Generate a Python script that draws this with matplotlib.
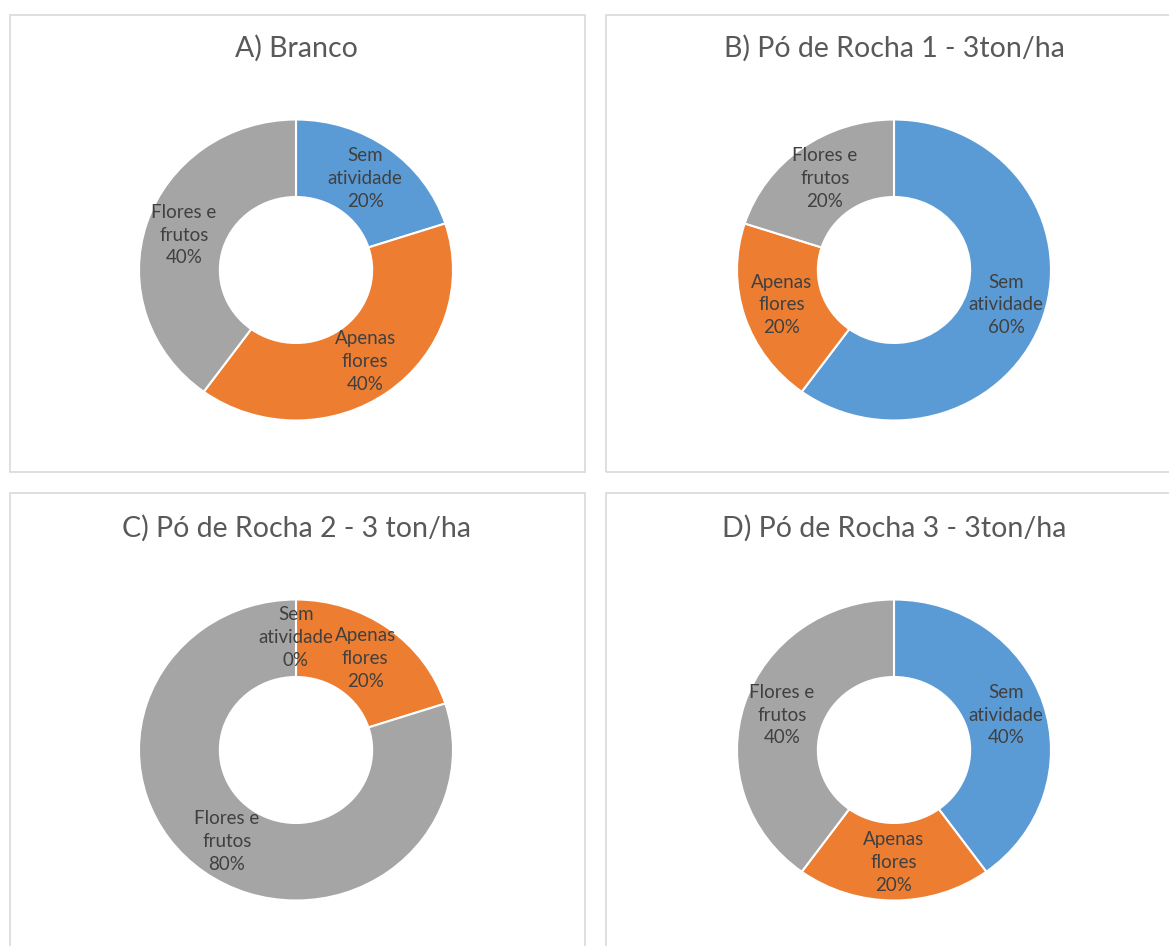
import matplotlib
matplotlib.use("Agg")
import matplotlib.pyplot as plt
from matplotlib.patches import Rectangle

plt.rcParams['font.family'] = ['Lato', 'DejaVu Sans']

categories = ["Sem\natividade", "Apenas\nflores", "Flores e\nfrutos"]
colors = ["#5B9BD5", "#ED7D31", "#A5A5A5"]

titles = ["A) Branco", "B) Pó de Rocha 1 - 3ton/ha",
          "C) Pó de Rocha 2 - 3 ton/ha", "D) Pó de Rocha 3 - 3ton/ha"]
values_A = [20, 40, 40]
values_B = [60, 20, 20]
values_C = [0, 20, 80]
values_D = [40, 20, 40]
all_values = [values_A, values_B, values_C, values_D]

W, H = 1169, 946
fig = plt.figure(figsize=(W / 100, H / 100), dpi=100)
fig.patch.set_facecolor("white")

# panel boxes (pixels: left, top, right, bottom)
boxes = [(10, 15, 585, 472), (606, 15, 1190, 472),
         (10, 493, 585, 970), (606, 493, 1190, 970)]
centers = [(296, 270), (894, 270), (296, 750), (894, 750)]
title_y = [48, 48, 528, 528]
rx, ry = 157, 150.5

for i, (vals, title) in enumerate(zip(all_values, titles)):
    l, t, r, b = boxes[i]
    fig.patches.append(Rectangle((l / W, 1 - b / H), (r - l) / W, (b - t) / H,
                                 transform=fig.transFigure, fill=False,
                                 edgecolor="#D9D9D9", linewidth=1.2))
    cx, cy = centers[i]
    ax = fig.add_axes([(cx - rx) / W, 1 - (cy + ry) / H, 2 * rx / W, 2 * ry / H])
    labels = [f"{c}\n{v}%" for c, v in zip(categories, vals)]
    wedges, texts = ax.pie(vals, colors=colors, startangle=90, counterclock=False,
                           radius=1.0, labels=labels, labeldistance=0.75,
                           wedgeprops=dict(width=0.515, edgecolor="white", linewidth=1.5),
                           textprops=dict(fontsize=13.5, color="#404040", linespacing=1.42))
    for tx in texts:
        tx.set_ha("center")
        tx.set_va("center")
    ax.set_aspect("auto")
    ax.set_xlim(-1, 1)
    ax.set_ylim(-1, 1)
    ax.axis("off")
    fig.text(cx / W, 1 - title_y[i] / H, title, ha="center", va="center",
             fontsize=20.5, color="#595959")

fig.savefig("out.png", dpi=100, facecolor="white")
